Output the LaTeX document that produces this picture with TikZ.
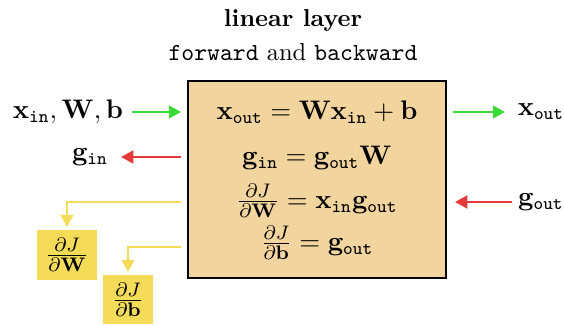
\documentclass[tikz,border=0pt]{standalone}
\usetikzlibrary{arrows.meta}
\definecolor{boxfill}{HTML}{F2D49E}
\definecolor{ygold}{HTML}{F4DC58}
\definecolor{fgreen}{HTML}{3ADB36}
\definecolor{bred}{HTML}{E53A3A}
\newcommand{\subtt}[1]{\mbox{\fontsize{7.4pt}{8pt}\selectfont\ttfamily #1}}
\newcommand{\vin}[1]{\mathbf{#1}_{\subtt{in}}}
\newcommand{\vout}[1]{\mathbf{#1}_{\subtt{out}}}
\tikzset{
  mathfont/.style={font=\fontsize{10.9pt}{13pt}\selectfont},
  mainbox/.style={draw=black, line width=0.5pt, fill=boxfill, minimum width=105.3pt, minimum height=80.4pt, inner sep=0pt},
  ybox/.style={fill=ygold, inner sep=0pt, mathfont},
  lbl/.style={inner sep=3.3pt, mathfont},
  eqn/.style={inner sep=0pt, mathfont},
  conn/.style={line width=0.9pt, -{Triangle[length=5pt,width=5.2pt]}},
  fwd/.style={conn, draw=fgreen},
  bwd/.style={conn, draw=bred},
  grad/.style={conn, draw=ygold},
}
\begin{document}
\begin{tikzpicture}[x=0.408pt,y=-0.408pt]
\useasboundingbox (0,0) rectangle (564,324);
\node (title) at (293,20) {\textbf{linear layer}};
\node (subtitle) at (293,52) {\texttt{forward} and \texttt{backward}};
\node[mainbox] (box) at (317,179.5) {};
\node[eqn] (eq1) at (317,112) {$\vout{x} = \mathbf{W}\vin{x} + \mathbf{b}$};
\node[eqn] (eq2) at (317,158) {$\vin{g} = \vout{g}\mathbf{W}$};
\node[eqn] (eq3) at (317,201) {$\frac{\partial J}{\partial \mathbf{W}} = \vin{x}\vout{g}$};
\node[eqn] (eq4) at (317,243) {$\frac{\partial J}{\partial \mathbf{b}} = \vout{g}$};
\node[lbl] (xin) at (68,112) {$\vin{x}, \mathbf{W}, \mathbf{b}$};
\node[lbl] (gin) at (90,157) {$\vin{g}$};
\node[lbl] (xout) at (541,112) {$\vout{x}$};
\node[lbl] (gout) at (541,202) {$\vout{g}$};
\node[ybox, minimum width=24.5pt, minimum height=20.4pt] (dW) at (67,255) {$\frac{\partial J}{\partial \mathbf{W}}$};
\node[ybox, minimum width=20.4pt, minimum height=20pt] (db) at (128,299.5) {$\frac{\partial J}{\partial \mathbf{b}}$};
\coordinate (xinR) at (132,112);
\coordinate (boxA) at (181,112);
\coordinate (boxB) at (181,157);
\coordinate (ginR) at (121,157);
\coordinate (boxC) at (181,202);
\coordinate (boxD) at (181,247);
\coordinate (boxE) at (453,112);
\coordinate (xoutL) at (505,112);
\coordinate (boutL) at (512,202);
\coordinate (boxF) at (455,202);
\draw[fwd] (xinR) -- (boxA);
\draw[bwd] (boxB) -- (ginR);
\draw[grad] (boxC) -| ([yshift=1pt]dW.north);
\draw[grad] (boxD) -| ([yshift=1pt]db.north);
\draw[fwd] (boxE) -- (xoutL);
\draw[bwd] (boutL) -- (boxF);
\end{tikzpicture}
\end{document}
